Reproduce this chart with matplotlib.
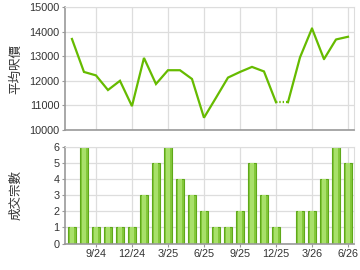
import numpy as np
import matplotlib
matplotlib.use('Agg')
import matplotlib.pyplot as plt

plt.rcParams['font.family'] = ['Liberation Sans', 'Noto Sans CJK TC', 'DejaVu Sans']

# monthly data, 7/24 .. 6/26
months = ['7/24', '8/24', '9/24', '10/24', '11/24', '12/24', '1/25', '2/25', '3/25', '4/25',
          '5/25', '6/25', '7/25', '8/25', '9/25', '10/25', '11/25', '12/25', '1/26', '2/26',
          '3/26', '4/26', '5/26', '6/26']
avg_price = [13700, 12360, 12220, 11625, 12000, 10970, 12930, 11870, 12430, 12430,
             12075, 10500, 11310, 12130, 12360, 12565, 12380, 11130, 11130, 12950,
             14130, 12880, 13680, 13790]
deals = [1, 6, 1, 1, 1, 1, 3, 5, 6, 4, 3, 2, 1, 1, 2, 5, 3, 1, 0, 2, 2, 4, 6, 5]
tick_labels = ['9/24', '12/24', '3/25', '6/25', '9/25', '12/25', '3/26', '6/26']

x = np.arange(len(months))
tick_pos = [months.index(t) for t in tick_labels]

line_color = '#66bb00'
grid_color = '#dddddd'
spine_color = '#999999'

fig = plt.figure(figsize=(3.6, 2.7), dpi=100)
W, H = 360.0, 270.0
ax1 = fig.add_axes([65 / W, 1 - 130 / H, (354 - 65) / W, (130 - 7) / H])
ax2 = fig.add_axes([65 / W, 1 - 243.5 / H, (354 - 65) / W, (243.5 - 147.3) / H])


def style(ax):
    for s in ['top', 'right']:
        ax.spines[s].set_color(grid_color)
    for s in ['left', 'bottom']:
        ax.spines[s].set_color(spine_color)
        ax.spines[s].set_linewidth(1.2)
    ax.grid(True, color=grid_color, linewidth=0.9)
    ax.set_axisbelow(True)
    ax.set_xlim(-0.58, 23.5)
    ax.set_xticks(tick_pos)
    ax.tick_params(length=2, width=0.8, color=spine_color, labelsize=7.8, pad=2,
                   labelcolor='#333333')


# average price line; month without deals drawn dotted
style(ax1)
gap = deals.index(0)
ax1.plot(x[:gap], avg_price[:gap], color=line_color, linewidth=1.6, solid_joinstyle='miter')
ax1.plot(x[gap - 1:gap + 1], avg_price[gap - 1:gap + 1], color=line_color, linewidth=1.6,
         linestyle=(0, (0.6, 0.9)))
ax1.plot(x[gap:], avg_price[gap:], color=line_color, linewidth=1.6)
ax1.set_ylim(10000, 15000)
ax1.set_yticks(range(10000, 15001, 1000))
ax1.set_xticklabels([])
ax1.tick_params(axis='x', length=0)
ax1.set_ylabel('平均呎價', family=['Noto Sans CJK TC'], fontsize=9, color='#333333')
ax1.yaxis.set_label_coords(-0.148, 0.5)

# number of transactions, with a lighter core to mimic the shaded bars
style(ax2)
ax2.bar(x, deals, width=0.7, color='#84c83a', edgecolor='#5fa81a', linewidth=0.8)
ax2.bar(x, deals, width=0.3, color='#a8e06a', linewidth=0)
ax2.set_ylim(0, 6)
ax2.set_yticks(range(0, 7))
ax2.set_xticklabels(tick_labels)
ax2.set_ylabel('成交宗數', family=['Noto Sans CJK TC'], fontsize=9, color='#333333')
ax2.yaxis.set_label_coords(-0.148, 0.5)

fig.savefig('out.png', dpi=100)
